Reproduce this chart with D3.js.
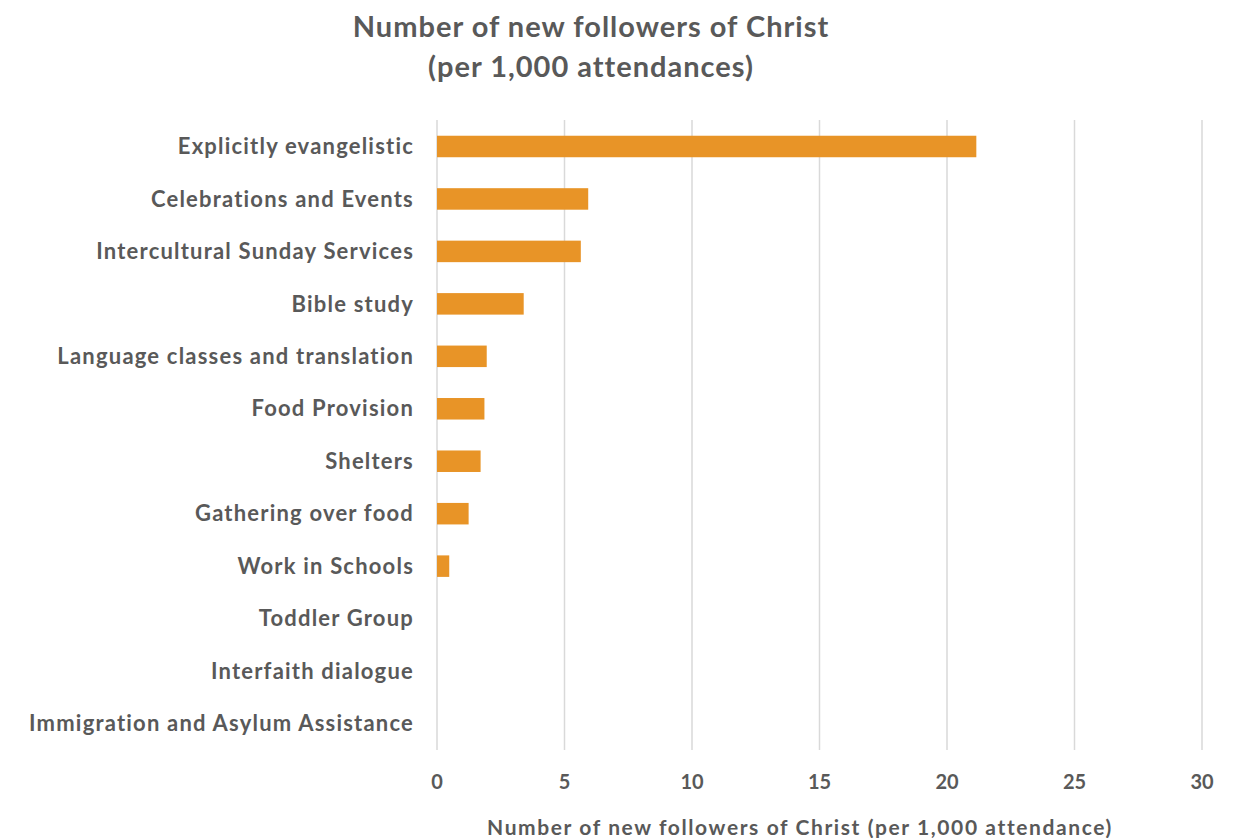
<!DOCTYPE html>
<html><head><meta charset="utf-8">
<script src="https://cdn.jsdelivr.net/npm/d3@7"></script>
<style>
body{margin:0;background:#fff;}
text{font-family:Lato,"Open Sans",sans-serif;font-weight:700;fill:#595959;}
</style></head><body>
<svg id="c" width="1239" height="838"></svg>
<script>
const categories = ["Explicitly evangelistic","Celebrations and Events","Intercultural Sunday Services","Bible study","Language classes and translation","Food Provision","Shelters","Gathering over food","Work in Schools","Toddler Group","Interfaith dialogue","Immigration and Asylum Assistance"];
const values = [21.15, 5.93, 5.64, 3.40, 1.95, 1.86, 1.71, 1.24, 0.48, 0, 0, 0];
const ticks = [0,5,10,15,20,25,30];
const title = ["Number of new followers of Christ","(per 1,000 attendances)"];
const xTitle = "Number of new followers of Christ (per 1,000 attendance)";

const svg = d3.select("#c");
const m = {left:437, right:1202, top:120, bottom:750};
const x = d3.scaleLinear().domain([0,30]).range([m.left,m.right]);
const y = d3.scaleBand().domain(categories).range([m.top,m.bottom]).paddingInner(0.59).paddingOuter(0.3);

svg.append("g").selectAll("line").data(ticks).join("line")
  .attr("x1",d=>x(d)).attr("x2",d=>x(d)).attr("y1",m.top).attr("y2",m.bottom)
  .attr("stroke","#d9d9d9").attr("stroke-width",1.5);

svg.append("g").selectAll("rect").data(categories).join("rect")
  .attr("x",x(0)).attr("y",d=>y(d)).attr("height",y.bandwidth())
  .attr("width",(d,i)=>x(values[i])-x(0)).attr("fill","#e89427");

svg.append("g").selectAll("text").data(categories).join("text")
  .attr("x",m.left-23).attr("y",d=>y(d)+y.bandwidth()/2).attr("dy","0.35em")
  .attr("text-anchor","end").attr("font-size",22).attr("letter-spacing",1.2).text(d=>d);

svg.append("g").selectAll("text").data(ticks).join("text")
  .attr("x",d=>x(d)).attr("y",782).attr("dy","0.35em")
  .attr("text-anchor","middle").attr("font-size",20).text(d=>d);

svg.append("text").attr("x",800).attr("y",828).attr("dy","0.35em")
  .attr("text-anchor","middle").attr("font-size",21).attr("letter-spacing",1.6).text(xTitle);

svg.append("g").selectAll("text").data(title).join("text")
  .attr("x",591).attr("y",(d,i)=>27+i*40).attr("dy","0.35em")
  .attr("text-anchor","middle").attr("font-size",29).attr("letter-spacing",1.0).text(d=>d);
</script></body></html>
